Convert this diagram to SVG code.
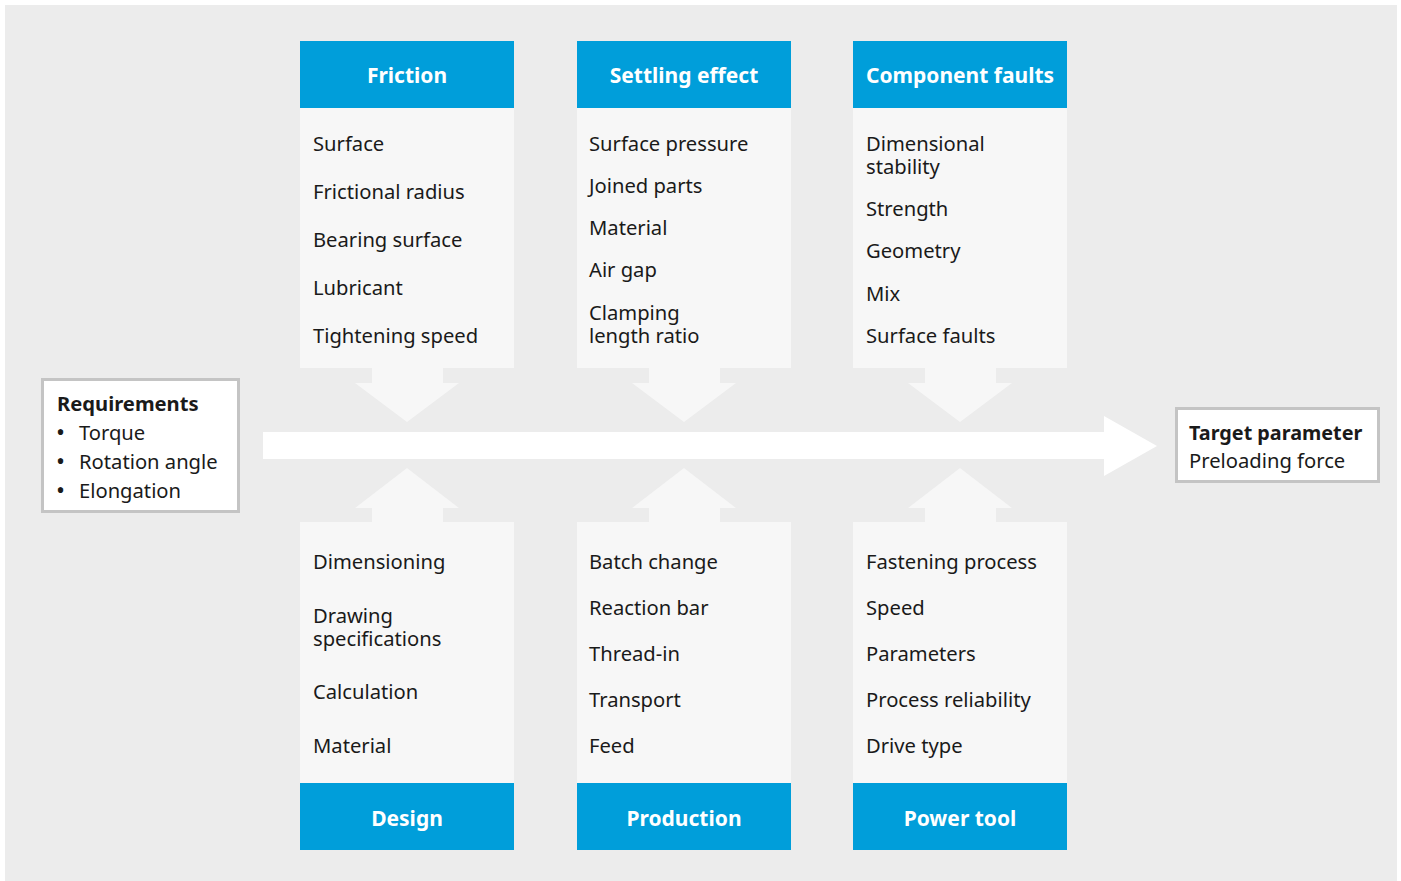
<svg xmlns="http://www.w3.org/2000/svg" width="1401" height="881" viewBox="0 0 1401 881">
<style>
.hdr{fill:#009eda}
.pnl{fill:#f7f7f7}
.ht{font-family:"Noto Sans","Open Sans",sans-serif;font-size:21px;font-weight:bold;fill:#fff;text-anchor:middle}
.t{font-family:"Noto Sans","Open Sans",sans-serif;font-size:20.2px;fill:#1a1a1a}
.b{font-weight:bold}
.bl{font-size:24px}
.box{fill:#fff;stroke:#c4c4c4;stroke-width:3}
</style>
<rect x="0" y="0" width="1401" height="881" fill="#fff"/>
<rect x="5" y="5" width="1392" height="876" fill="#ececec"/>
<g id="connectors">
<polygon points="263,432 1104,432 1104,416 1157,446 1104,476 1104,459 263,459" fill="#fff"/>
<g fill="#f7f7f7">
<polygon points="372,368 443,368 443,383 459,383 407,422 355,383 372,383"/>
<polygon points="649,368 720,368 720,383 736,383 684,422 632,383 649,383"/>
<polygon points="925,368 996,368 996,383 1012,383 960,422 908,383 925,383"/>
<polygon points="372,522 443,522 443,508 459,508 407,468 355,508 372,508"/>
<polygon points="649,522 720,522 720,508 736,508 684,468 632,508 649,508"/>
<polygon points="925,522 996,522 996,508 1012,508 960,468 908,508 925,508"/>
</g>
</g>
<g id="requirements">
<rect class="box" x="42.5" y="379.5" width="196" height="132"/>
<text class="t b" x="57" y="411">Requirements</text>
<text class="t"><tspan class="bl" x="56" y="441">•</tspan><tspan x="79" y="440">Torque</tspan></text>
<text class="t"><tspan class="bl" x="56" y="470">•</tspan><tspan x="79" y="469">Rotation angle</tspan></text>
<text class="t"><tspan class="bl" x="56" y="499">•</tspan><tspan x="79" y="498">Elongation</tspan></text>
</g>
<g id="target">
<rect class="box" x="1176.5" y="408.5" width="202" height="73"/>
<text class="t b" x="1189" y="440" style="font-size:19.8px">Target parameter</text>
<text class="t" x="1189" y="468">Preloading force</text>
</g>
<g id="friction">
<rect class="hdr" x="300" y="41" width="214" height="67"/>
<rect class="pnl" x="300" y="108" width="214" height="260"/>
<text class="ht" x="407" y="83">Friction</text>
<text class="t" x="313" y="151">Surface</text>
<text class="t" x="313" y="199">Frictional radius</text>
<text class="t" x="313" y="247">Bearing surface</text>
<text class="t" x="313" y="295">Lubricant</text>
<text class="t" x="313" y="343">Tightening speed</text>
</g>
<g id="settling">
<rect class="hdr" x="577" y="41" width="214" height="67"/>
<rect class="pnl" x="577" y="108" width="214" height="260"/>
<text class="ht" x="684" y="83">Settling effect</text>
<text class="t" x="589" y="151">Surface pressure</text>
<text class="t" x="589" y="193">Joined parts</text>
<text class="t" x="589" y="235">Material</text>
<text class="t" x="589" y="277">Air gap</text>
<text class="t"><tspan x="589" y="320">Clamping</tspan><tspan x="589" y="343">length ratio</tspan></text>
</g>
<g id="component">
<rect class="hdr" x="853" y="41" width="214" height="67"/>
<rect class="pnl" x="853" y="108" width="214" height="260"/>
<text class="ht" x="960" y="83">Component faults</text>
<text class="t"><tspan x="866" y="151">Dimensional</tspan><tspan x="866" y="174">stability</tspan></text>
<text class="t" x="866" y="216">Strength</text>
<text class="t" x="866" y="258">Geometry</text>
<text class="t" x="866" y="301">Mix</text>
<text class="t" x="866" y="343">Surface faults</text>
</g>
<g id="design">
<rect class="pnl" x="300" y="522" width="214" height="261"/>
<rect class="hdr" x="300" y="783" width="214" height="67"/>
<text class="ht" x="407" y="826">Design</text>
<text class="t" x="313" y="569">Dimensioning</text>
<text class="t"><tspan x="313" y="623">Drawing</tspan><tspan x="313" y="646">specifications</tspan></text>
<text class="t" x="313" y="699">Calculation</text>
<text class="t" x="313" y="753">Material</text>
</g>
<g id="production">
<rect class="pnl" x="577" y="522" width="214" height="261"/>
<rect class="hdr" x="577" y="783" width="214" height="67"/>
<text class="ht" x="684" y="826">Production</text>
<text class="t" x="589" y="569">Batch change</text>
<text class="t" x="589" y="615">Reaction bar</text>
<text class="t" x="589" y="661">Thread-in</text>
<text class="t" x="589" y="707">Transport</text>
<text class="t" x="589" y="753">Feed</text>
</g>
<g id="powertool">
<rect class="pnl" x="853" y="522" width="214" height="261"/>
<rect class="hdr" x="853" y="783" width="214" height="67"/>
<text class="ht" x="960" y="826">Power tool</text>
<text class="t" x="866" y="569">Fastening process</text>
<text class="t" x="866" y="615">Speed</text>
<text class="t" x="866" y="661">Parameters</text>
<text class="t" x="866" y="707">Process reliability</text>
<text class="t" x="866" y="753">Drive type</text>
</g>
</svg>
